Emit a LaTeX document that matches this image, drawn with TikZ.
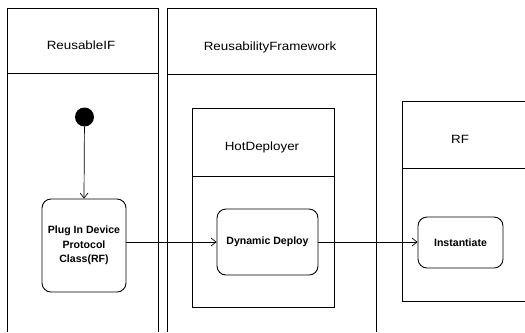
\documentclass[tikz,border=0pt]{standalone}
\usepackage{fontspec}
\setmainfont{Liberation Sans}
\usetikzlibrary{arrows.meta}
\newcommand{\hdrtext}[1]{\scalebox{1.12}[1]{#1}}
\begin{document}
\begin{tikzpicture}[x=1bp,y=-1bp,
  lane/.style={line width=0.8pt},
  hdr/.style={font=\fontsize{12}{14}\selectfont, inner sep=0pt},
  act/.style={draw, line width=0.9pt, rounded corners=9bp, align=center,
    font=\fontsize{10.6}{14.5}\selectfont\bfseries, inner sep=0pt},
  flow/.style={line width=0.7pt, -{Straight Barb[length=5bp,width=8bp]}},
  start/.style={circle, fill=black, minimum size=19bp, inner sep=0pt}]
\useasboundingbox (0,0) rectangle (525,332);
% lanes
\draw[lane] (7,332) -- (7,8) -- (158,8) -- (158,332);
\draw[lane] (7,73) -- (158,73);
\draw[lane] (167,332) -- (167,8) -- (376,8) -- (376,332);
\draw[lane] (167,74) -- (376,74);
\draw[lane] (525,101) -- (402,101) -- (402,301) -- (525,301);
\draw[lane] (402,168) -- (525,168);
% HotDeployer
\draw[lane] (192,108) rectangle (334,307);
\draw[lane] (192,176) -- (334,176);
% headers
\node[hdr] (h1) at (81,45) {\hdrtext{ReusableIF}};
\node[hdr] (h2) at (270,47) {\hdrtext{ReusabilityFramework}};
\node[hdr] (h3) at (262,147) {\hdrtext{HotDeployer}};
\node[hdr] (h4) at (460,139) {\hdrtext{RF}};
% nodes
\node[start] (s) at (84.5,117) {};
\node[act, minimum width=84bp, minimum height=93bp] (p) at (84,245.5) {Plug In Device\\Protocol\\Class(RF)};
\node[act, minimum width=101bp, minimum height=66bp] (d) at (267.5,242) {Dynamic Deploy};
\node[act, minimum width=85bp, minimum height=51bp] (i) at (460.5,242.5) {Instantiate};
% flows
\draw[flow] (s) -- (p.north);
\draw[flow] (p.east |- 0,242) -- (d.west |- 0,242);
\draw[flow] (d.east |- 0,242) -- (i.west |- 0,242);
\end{tikzpicture}
\end{document}
